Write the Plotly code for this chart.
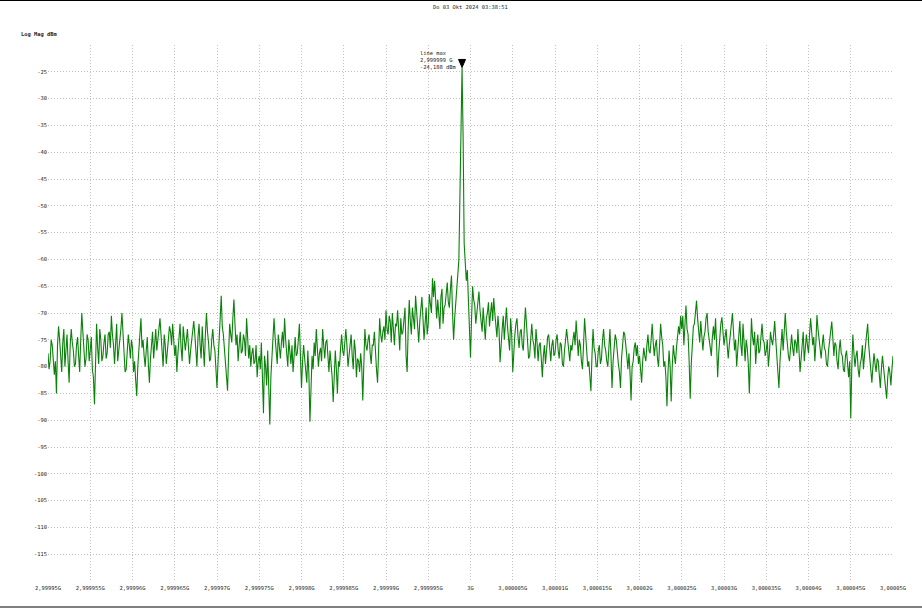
import plotly.graph_objects as go

# ---------------- data ----------------
start_hz = 2.99995e9
stop_hz = 3.00005e9

level_dbm = [
    # 2,99995G ..
    -77.5, -80.5, -79.0, -75.0, -76.0, -78.5, -81.5, -79.0, -85.0, -76.0, -72.5, -75.0, -78.0, -81.0, -75.5, -73.0, -80.0, -77.0, -74.0, -79.0, -83.0, -76.0, -73.0, -75.5, -77.0, -80.0, -79.5, -76.0, -74.5, -78.0, -81.0, -75.0, -70.0, -73.5, -76.5, -80.0, -78.5, -74.0, -75.0, -79.0,
    # 2,999955G ..
    -77.0, -74.5, -80.5, -82.0, -87.0, -79.0, -72.0, -76.5, -79.5, -73.0, -75.0, -79.0, -78.0, -75.5, -74.0, -78.5, -77.5, -74.0, -73.5, -76.5, -70.5, -74.0, -76.0, -79.5, -74.5, -72.0, -79.0, -77.0, -75.5, -73.0, -70.0, -74.5, -77.0, -81.0, -80.5, -77.5, -74.0, -76.0, -78.5, -75.0,
    # 2,99996G ..
    -76.5, -81.0, -79.0, -82.5, -85.5, -80.0, -77.0, -74.0, -71.0, -76.5, -75.0, -78.0, -80.0, -77.0, -74.5, -79.5, -83.0, -78.5, -76.0, -73.5, -78.5, -75.0, -73.0, -77.0, -75.5, -73.0, -71.0, -74.5, -77.5, -80.0, -74.0, -76.0, -79.5, -77.0, -76.0, -72.5, -73.5, -76.0, -72.0, -74.5,
    # 2,999965G ..
    -78.0, -76.0, -81.0, -77.5, -74.0, -72.0, -76.5, -79.0, -72.5, -74.5, -77.0, -75.0, -73.0, -76.5, -79.5, -77.0, -75.0, -73.0, -71.5, -74.0, -78.0, -80.0, -74.5, -72.0, -76.0, -78.5, -72.5, -75.5, -80.0, -74.0, -70.0, -73.5, -75.5, -79.0, -78.5, -75.0, -73.0, -76.0, -77.0, -80.5,
    # 2,99997G ..
    -84.0, -79.0, -76.0, -71.0, -66.8, -72.5, -74.0, -77.0, -78.0, -81.0, -84.5, -77.5, -72.0, -74.0, -75.5, -71.0, -67.5, -72.0, -76.0, -74.0, -79.0, -76.0, -73.5, -77.5, -77.0, -74.0, -75.0, -78.0, -71.0, -74.5, -78.5, -76.0, -80.0, -77.5, -76.5, -79.5, -79.0, -76.0, -82.0, -79.0,
    # 2,999975G ..
    -78.0, -80.5, -75.5, -82.0, -88.7, -78.0, -80.0, -83.5, -77.0, -84.0, -90.8, -82.0, -79.0, -75.0, -71.0, -74.5, -76.5, -79.5, -74.0, -77.0, -78.5, -75.5, -73.5, -76.5, -71.0, -75.0, -77.0, -80.0, -75.0, -77.5, -79.5, -76.0, -81.0, -78.0, -74.5, -78.0, -77.5, -75.0, -72.0, -78.0,
    # 2,99998G ..
    -84.0, -79.0, -76.0, -78.5, -80.5, -83.0, -77.0, -81.5, -90.3, -81.0, -78.0, -80.5, -75.5, -78.0, -73.0, -76.5, -80.0, -77.5, -76.5, -79.0, -73.0, -76.0, -78.5, -75.5, -75.0, -78.0, -81.0, -77.0, -79.0, -82.0, -86.6, -80.0, -77.0, -80.5, -85.0, -79.0, -80.0, -76.5, -74.0, -77.0,
    # 2,999985G ..
    -78.0, -75.5, -73.0, -76.0, -80.0, -78.0, -76.5, -74.0, -78.0, -80.5, -75.0, -77.0, -82.0, -78.5, -79.0, -81.0, -77.5, -80.0, -86.3, -79.0, -73.0, -76.0, -77.0, -75.0, -74.0, -77.5, -79.5, -76.0, -76.0, -73.5, -78.0, -80.5, -83.0, -77.0, -71.0, -74.0, -75.5, -73.5, -72.5, -75.0,
    # 2,99999G ..
    -69.5, -73.0, -74.0, -70.5, -71.5, -75.5, -70.0, -73.0, -76.0, -72.0, -72.5, -69.5, -75.0, -77.0, -71.0, -74.0, -73.5, -71.0, -69.0, -78.0, -81.0, -73.0, -67.6, -71.5, -74.0, -69.0, -70.5, -73.0, -66.8, -70.0, -73.0, -75.5, -71.5, -68.5, -67.0, -71.0, -75.0, -72.0, -69.0, -74.0,
    # 2,999995G ..
    -72.0, -66.5, -68.0, -70.0, -63.5, -67.0, -64.0, -68.5, -71.0, -67.5, -70.0, -73.0, -67.0, -65.5, -72.0, -69.0, -68.5, -66.0, -64.3, -68.0, -69.0, -65.5, -63.0, -70.0, -75.0, -71.0, -68.0, -64.5, -62.0, -60.0, -48.0, -32.0, -24.188, -37.0, -57.0, -60.5, -64.0, -62.0, -67.0, -70.5,
    # 3G ..
    -78.3, -71.0, -65.0, -67.5, -68.5, -72.0, -70.0, -67.0, -66.0, -69.5, -71.0, -73.5, -69.0, -72.0, -75.0, -71.0, -70.0, -68.0, -72.5, -70.0, -68.0, -71.5, -67.2, -70.0, -72.0, -74.5, -70.5, -73.0, -79.2, -75.0, -73.0, -70.5, -75.0, -72.0, -69.0, -72.5, -74.5, -77.0, -71.0, -74.0,
    # 3,000005G ..
    -81.0, -77.0, -74.0, -72.0, -71.0, -74.5, -76.5, -73.5, -73.0, -76.0, -77.0, -72.5, -69.0, -72.0, -75.0, -78.5, -78.0, -74.5, -72.0, -75.0, -76.0, -78.5, -73.0, -75.5, -79.0, -76.0, -75.5, -78.5, -82.0, -78.0, -76.0, -79.5, -77.0, -74.5, -74.0, -77.5, -79.0, -76.0, -75.0, -78.0,
    # 3,00001G ..
    -77.5, -75.0, -74.0, -77.0, -78.5, -75.5, -76.0, -79.5, -80.0, -77.0, -75.5, -73.0, -75.0, -77.5, -79.0, -76.0, -77.0, -75.0, -73.5, -76.0, -71.4, -74.5, -78.0, -75.0, -76.0, -79.0, -80.5, -76.0, -71.0, -74.0, -77.0, -80.0, -79.0, -81.5, -84.6, -78.0, -73.0, -76.5, -77.5, -80.0,
    # 3,000015G ..
    -80.0, -77.0, -76.0, -79.5, -78.5, -75.0, -73.0, -76.0, -77.0, -79.0, -80.0, -76.5, -73.0, -78.0, -84.0, -79.0, -77.0, -74.0, -75.0, -78.0, -79.5, -81.0, -84.0, -78.5, -76.0, -73.5, -74.0, -77.0, -78.0, -80.5, -77.5, -81.0, -86.3, -80.0, -79.0, -76.5, -75.5, -78.0, -76.0, -79.5,
    # 3,00002G ..
    -78.0, -80.5, -83.0, -79.0, -76.5, -78.0, -79.0, -76.0, -74.0, -77.0, -77.5, -75.0, -72.0, -75.5, -78.0, -76.0, -75.0, -78.5, -80.0, -76.0, -72.0, -74.5, -76.0, -80.0, -79.0, -82.0, -87.4, -81.0, -77.0, -80.0, -86.5, -80.0, -76.0, -78.0, -79.5, -76.5, -75.0, -72.5, -74.0, -70.5,
    # 3,000025G ..
    -73.0, -70.5, -76.0, -72.0, -68.6, -73.0, -74.0, -79.0, -86.0, -79.5, -75.0, -72.5, -72.0, -70.0, -67.7, -71.0, -73.0, -75.5, -71.5, -74.0, -77.0, -74.5, -73.5, -71.0, -70.0, -73.5, -75.0, -76.5, -78.0, -74.5, -72.5, -75.0, -71.0, -76.0, -82.0, -77.5, -74.0, -72.0, -70.8, -73.5,
    # 3,00003G ..
    -76.0, -74.5, -73.0, -76.0, -78.5, -76.0, -74.5, -72.0, -70.0, -73.5, -77.0, -75.0, -80.0, -77.0, -73.5, -71.5, -76.0, -78.0, -72.0, -75.0, -79.0, -75.0, -76.5, -79.5, -85.0, -78.0, -71.0, -74.5, -76.0, -73.5, -79.5, -76.0, -74.0, -77.5, -77.0, -74.5, -72.0, -75.0, -75.5, -78.0,
    # 3,000035G ..
    -77.0, -75.0, -80.0, -77.5, -73.5, -75.0, -76.0, -74.0, -71.5, -75.0, -78.0, -80.5, -84.0, -79.0, -75.0, -73.0, -77.0, -74.0, -70.0, -73.5, -76.5, -78.0, -79.0, -76.0, -74.0, -76.5, -78.0, -75.0, -75.5, -77.5, -73.0, -77.0, -81.0, -78.5, -76.0, -73.5, -79.0, -76.5, -74.0, -76.0,
    # 3,00004G ..
    -77.5, -74.0, -71.0, -73.5, -76.0, -74.5, -79.0, -75.5, -70.4, -73.0, -75.0, -77.5, -78.5, -76.0, -74.0, -76.5, -77.0, -79.5, -80.0, -77.0, -75.5, -73.0, -71.6, -74.5, -78.0, -75.5, -76.0, -79.0, -80.5, -77.0, -75.0, -77.5, -78.0, -80.5, -81.0, -78.0, -77.0, -79.5, -82.0, -79.0,
    # 3,000045G .. 3,00005G
    -89.7, -80.0, -74.0, -77.5, -80.0, -78.0, -77.0, -80.5, -82.0, -79.5, -78.5, -76.0, -80.5, -78.0, -76.0, -74.5, -72.0, -76.0, -79.0, -81.5, -83.0, -80.0, -77.5, -79.5, -81.0, -78.5, -79.0, -81.5, -84.0, -80.5, -78.0, -80.0, -82.5, -84.0, -86.0, -82.0, -80.0, -81.0, -83.5, -80.5, -78.0,
]

x_tick_hz = [2.99995e9 + k * 5e3 for k in range(21)]
x_tick_text = ["2,99995G", "2,999955G", "2,99996G", "2,999965G", "2,99997G", "2,999975G",
               "2,99998G", "2,999985G", "2,99999G", "2,999995G", "3G", "3,000005G",
               "3,00001G", "3,000015G", "3,00002G", "3,000025G", "3,00003G", "3,000035G",
               "3,00004G", "3,000045G", "3,00005G"]
y_tick_vals = [-20, -25, -30, -35, -40, -45, -50, -55, -60, -65, -70, -75, -80, -85, -90, -95,
               -100, -105, -110, -115]
y_tick_text = [""] + [str(v) for v in y_tick_vals[1:]]

title_text = "Do 03 Okt 2024 03:38:51"
y_title = "Log Mag dBm"
marker_name = "line max"
marker_freq_text = "2,999999 G"
marker_level_text = "-24,188 dBm"

# ---------------- figure ----------------
n = len(level_dbm)
freq_hz = [start_hz + i * (stop_hz - start_hz) / (n - 1) for i in range(n)]
peak_i = max(range(n), key=lambda i: level_dbm[i])
peak_f = freq_hz[peak_i]
peak_v = level_dbm[peak_i]

FONT = "DejaVu Sans Mono"
TXT = "#1e1e1e"
GRID = "#c2c2c2"
FS = 5.4

fig = go.Figure()
fig.add_trace(go.Scatter(x=freq_hz, y=level_dbm, mode="lines",
                         line=dict(color="#0a820a", width=1.1), hoverinfo="skip",
                         showlegend=False))

fig.update_layout(
    width=922, height=612,
    margin=dict(l=48, r=29, t=45, b=31),
    paper_bgcolor="white", plot_bgcolor="white",
    font=dict(family=FONT, size=FS, color=TXT),
    showlegend=False,
    xaxis=dict(range=[start_hz, stop_hz], tickmode="array", tickvals=x_tick_hz,
               ticktext=x_tick_text, showgrid=True, gridcolor=GRID, griddash="1px,2px",
               gridwidth=1, zeroline=False, showline=False, ticks="",
               tickfont=dict(family=FONT, size=FS, color=TXT), ticklabelstandoff=3),
    yaxis=dict(range=[-120, -20], tickmode="array", tickvals=y_tick_vals,
               ticktext=y_tick_text, showgrid=True, gridcolor=GRID, griddash="1px,2px",
               gridwidth=1, zeroline=False, showline=False, ticks="",
               tickfont=dict(family=FONT, size=FS, color=TXT)),
)

# peak marker triangle (pixel-sized, anchored at the peak)
fig.add_shape(type="path", xref="x", yref="y", xsizemode="pixel", ysizemode="pixel",
              xanchor=peak_f, yanchor=peak_v,
              path="M -3.5,8 L 3.5,8 L 0,0 Z", fillcolor="black", line=dict(color="black", width=1))

fig.add_annotation(x=peak_f, y=peak_v, xref="x", yref="y", showarrow=False,
                   text=f"{marker_name}<br>{marker_freq_text}<br>{marker_level_text}",
                   align="left", xanchor="right", yanchor="bottom", xshift=-4, yshift=-5,
                   font=dict(family=FONT, size=FS, color=TXT))

# title & y-axis label
fig.add_annotation(x=0.5, y=1, xref="paper", yref="paper", yanchor="top", yshift=43,
                   text=title_text, showarrow=False, font=dict(family=FONT, size=FS, color=TXT))
fig.add_annotation(x=0, y=1, xref="paper", yref="paper", xanchor="left", yanchor="bottom",
                   xshift=-29, yshift=5, text=f"<b>{y_title}</b>", showarrow=False,
                   font=dict(family=FONT, size=FS, color=TXT))

# frame lines at very top and bottom of page
fig.add_shape(type="line", xref="paper", yref="paper", x0=-48/845, x1=874/845,
              y0=580.5/536, y1=580.5/536, line=dict(color="black", width=1.2))
fig.add_shape(type="line", xref="paper", yref="paper", x0=-48/845, x1=874/845,
              y0=-26/536, y1=-26/536, line=dict(color="black", width=1.2))

fig.write_html("out.html")
